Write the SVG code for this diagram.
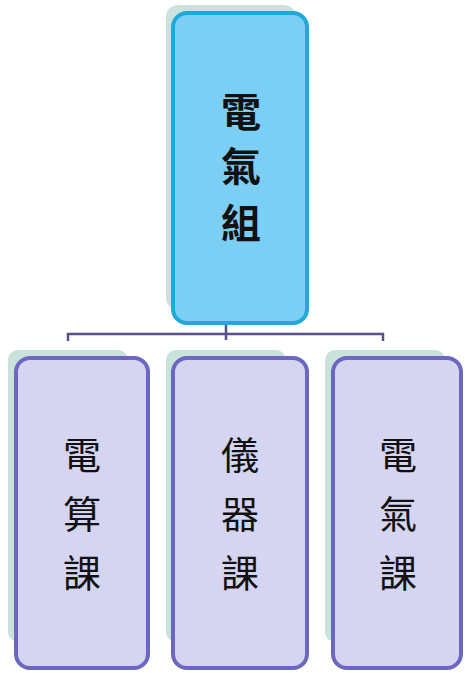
<svg xmlns="http://www.w3.org/2000/svg" width="465" height="673" viewBox="0 0 465 673">
<style>
.shadow{fill:#c9e3dc;}
.top{fill:#7ccff4;stroke:#1ea8dc;stroke-width:4;}
.sub{fill:#d5d4f1;stroke:#6c68c0;stroke-width:4;}
.conn{fill:none;stroke:#5b5189;stroke-width:2.5;}
text{font-family:"Noto Sans CJK TC","Noto Sans CJK SC",sans-serif;fill:#111;text-anchor:middle;dominant-baseline:central;}
.tt{font-size:40px;font-weight:bold;}
.st{font-size:38px;}
</style>
<rect width="465" height="673" fill="#fff"/>
<g id="connectors">
<path class="conn" d="M226,322 V340 M68,341 V334 H383 V341"/>
</g>
<g id="node-top">
<rect class="shadow" x="166" y="5" width="130" height="305" rx="12"/>
<rect class="top" x="173" y="13" width="134" height="310" rx="14"/>
<text class="tt" x="241" y="110">電</text>
<text class="tt" x="241" y="164">氣</text>
<text class="tt" x="241" y="221">組</text>
</g>
<g id="node-1">
<rect class="shadow" x="8" y="350" width="120" height="292" rx="10"/>
<rect class="sub" x="16" y="358" width="132" height="310" rx="14"/>
<text class="st" x="82" y="452">電</text>
<text class="st" x="82" y="511">算</text>
<text class="st" x="82" y="570">課</text>
</g>
<g id="node-2">
<rect class="shadow" x="166" y="350" width="120" height="292" rx="10"/>
<rect class="sub" x="173" y="358" width="134" height="310" rx="14"/>
<text class="st" x="240" y="452">儀</text>
<text class="st" x="240" y="511">器</text>
<text class="st" x="240" y="570">課</text>
</g>
<g id="node-3">
<rect class="shadow" x="325" y="350" width="120" height="292" rx="10"/>
<rect class="sub" x="333" y="358" width="128" height="310" rx="14"/>
<text class="st" x="398" y="452">電</text>
<text class="st" x="398" y="511">氣</text>
<text class="st" x="398" y="570">課</text>
</g>
</svg>
